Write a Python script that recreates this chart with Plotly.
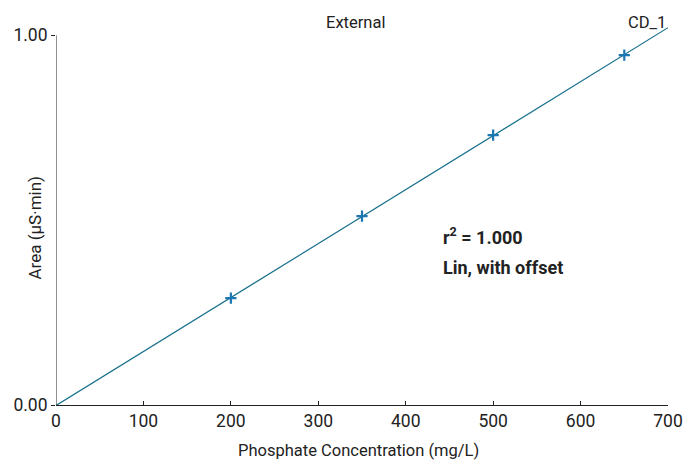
import numpy as np
import plotly.graph_objects as go

conc = [200, 350, 500, 650]
area = [0.289, 0.511, 0.730, 0.946]
fit_x = [0, 700]
x_ticks = [0, 100, 200, 300, 400, 500, 600, 700]
y_ticks = [0.0, 1.0]
y_ticktext = ["0.00", "1.00"]

slope, offset = np.polyfit(conc, area, 1)
fit_y = [slope * v + offset for v in fit_x]

FONT = "Roboto"
FS = 17.5
fig = go.Figure()
fig.add_trace(go.Scatter(x=fit_x, y=fit_y, mode="lines",
                         line=dict(color="#17708c", width=1.2), hoverinfo="skip"))
fig.add_trace(go.Scatter(x=conc, y=area, mode="markers",
                         marker=dict(symbol="cross-thin", size=8,
                                     line=dict(color="#1b76b3", width=2.2))))

fig.add_shape(type="line", xref="x", yref="y", x0=0, x1=0, y0=0, y1=1,
              line=dict(color="#222", width=1))

fig.update_layout(
    width=686, height=460, showlegend=False,
    paper_bgcolor="white", plot_bgcolor="white",
    margin=dict(l=56, r=18, t=26, b=55, autoexpand=False),
    font=dict(family=FONT, size=FS, color="#222"),
    xaxis=dict(range=[0, 700], tickvals=x_ticks, showgrid=False, zeroline=False,
               showline=True, linecolor="#222", linewidth=1, automargin=False,
               ticks="inside", ticklen=4, tickcolor="#222",
               tickfont=dict(size=FS)),
    yaxis=dict(range=[0, 1.025], tickvals=y_ticks, ticktext=y_ticktext,
               showgrid=False, zeroline=False, showline=False, automargin=False,
               ticks="outside", ticklen=4, tickcolor="#222",
               tickfont=dict(size=FS)),
)
fig.add_annotation(text="Phosphate Concentration (mg/L)", xref="paper", yref="paper",
                   x=0.495, y=0, yanchor="middle", xanchor="center",
                   showarrow=False, yshift=-45, font=dict(size=16.5))
fig.add_annotation(text="Area (µS·min)", xref="paper", yref="y", textangle=-90,
                   x=0, y=0.48, xanchor="center", yanchor="middle",
                   showarrow=False, xshift=-21, font=dict(size=17))
fig.add_annotation(text="External", xref="paper", yref="paper", x=0.49, y=1.0,
                   yanchor="middle", xanchor="center", showarrow=False, yshift=4,
                   font=dict(size=16.5))
fig.add_annotation(text="CD_1", xref="paper", yref="paper", x=0.965, y=1.0,
                   yanchor="middle", xanchor="center", showarrow=False, yshift=4,
                   font=dict(size=16.5))
fig.add_annotation(text="<b>r<sup>2</sup> = 1.000</b>", xref="x", yref="y",
                   x=440, y=0.458, xanchor="left", showarrow=False,
                   font=dict(size=18))
fig.add_annotation(text="<b>Lin, with offset</b>", xref="x", yref="y",
                   x=440, y=0.372, xanchor="left", showarrow=False,
                   font=dict(size=18))

fig.write_html("out.html")
